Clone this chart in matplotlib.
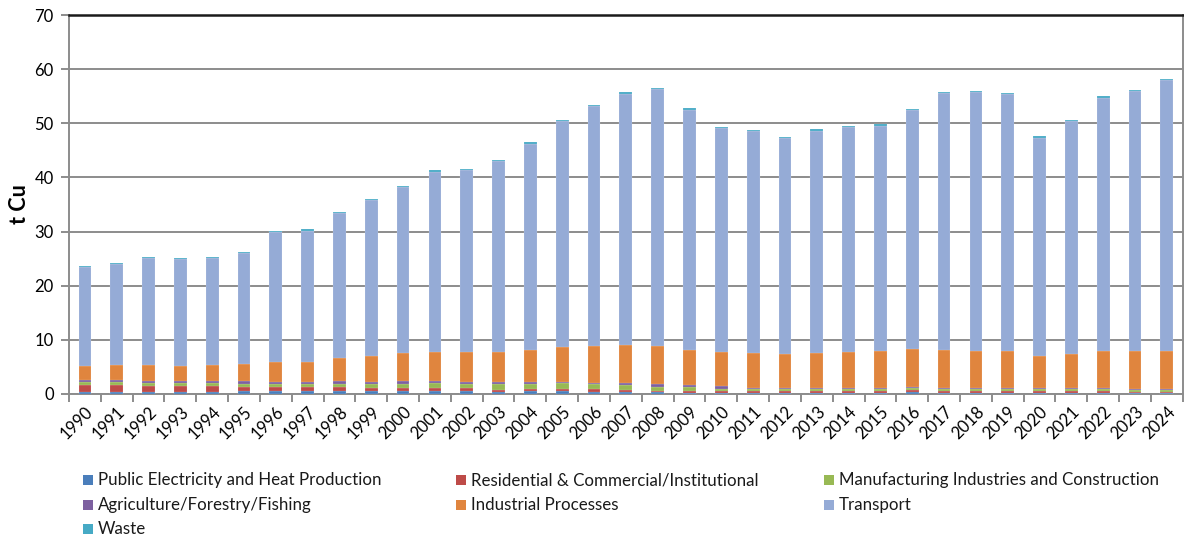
import numpy as np
import matplotlib
matplotlib.use("Agg")
import matplotlib.pyplot as plt
from matplotlib.patches import Rectangle

plt.rcParams["font.family"] = ["Lato", "DejaVu Sans"]

# ----------------------------------------------------- data (t Cu)
years = [str(y) for y in range(1990, 2025)]

public = [0.37, 0.43, 0.43, 0.43, 0.43, 0.49, 0.49, 0.49, 0.61, 0.55,
          0.61, 0.55, 0.61, 0.43, 0.55, 0.55, 0.43, 0.37, 0.31, 0.25,
          0.25, 0.20, 0.20, 0.20, 0.20, 0.20, 0.40, 0.20, 0.20, 0.20,
          0.20, 0.20, 0.20, 0.12, 0.12]
residential = [1.29, 1.23, 1.04, 1.04, 1.04, 0.80, 0.80, 0.74, 0.61, 0.49,
               0.43, 0.55, 0.49, 0.31, 0.31, 0.43, 0.43, 0.37, 0.31, 0.37,
               0.31, 0.30, 0.30, 0.30, 0.30, 0.30, 0.30, 0.30, 0.30, 0.30,
               0.30, 0.30, 0.30, 0.18, 0.18]
manufacturing = [0.49, 0.49, 0.55, 0.49, 0.55, 0.61, 0.55, 0.61, 0.67, 0.74,
                 0.86, 0.92, 0.80, 1.04, 0.98, 0.98, 0.92, 0.86, 0.74, 0.61,
                 0.43, 0.40, 0.40, 0.40, 0.40, 0.40, 0.35, 0.40, 0.40, 0.40,
                 0.40, 0.40, 0.40, 0.45, 0.45]
agriculture = [0.43, 0.49, 0.37, 0.43, 0.37, 0.49, 0.43, 0.43, 0.43, 0.43,
               0.43, 0.37, 0.37, 0.37, 0.31, 0.31, 0.31, 0.43, 0.49, 0.43,
               0.43, 0.30, 0.30, 0.30, 0.30, 0.30, 0.30, 0.30, 0.30, 0.30,
               0.30, 0.30, 0.30, 0.25, 0.25]
industrial = [2.52, 2.66, 2.88, 2.82, 3.00, 3.19, 3.56, 3.68, 4.36, 4.72,
              5.21, 5.40, 5.52, 5.64, 6.01, 6.32, 6.69, 6.99, 6.93, 6.50,
              6.38, 6.35, 6.22, 6.40, 6.59, 6.78, 6.87, 6.90, 6.78, 6.65,
              5.73, 6.22, 6.78, 6.90, 6.98]
transport = [18.35, 18.65, 19.78, 19.64, 19.66, 20.47, 24.02, 24.20, 26.77, 28.82,
             30.71, 33.26, 33.56, 35.16, 38.09, 41.76, 44.37, 46.43, 47.57, 44.39,
             41.35, 41.00, 39.83, 41.05, 41.46, 41.57, 44.23, 47.45, 47.77, 47.50,
             40.42, 43.03, 46.77, 48.00, 49.97]
waste = [0.25] * 35

series = [
    ("Public Electricity and Heat Production", public, "#4A7EBB"),
    ("Residential & Commercial/Institutional", residential, "#BE4B48"),
    ("Manufacturing Industries and Construction", manufacturing, "#98B954"),
    ("Agriculture/Forestry/Fishing", agriculture, "#7D60A0"),
    ("Industrial Processes", industrial, "#E0853E"),
    ("Transport", transport, "#95ABD6"),
    ("Waste", waste, "#46AAC5"),
]

# ----------------------------------------------------- figure
W, H = 1184, 537
fig = plt.figure(figsize=(W / 100, H / 100), dpi=100)
ax = fig.add_axes([0.0583, 0.2663, 0.9406, 0.7057])

x = np.arange(len(years))
bottom = np.zeros(len(years))
for name, vals, col in series:
    vals = np.array(vals)
    ax.bar(x, vals, width=0.4, bottom=bottom, color=col, label=name,
           edgecolor=(1, 1, 1, 0.35), linewidth=0.3, zorder=3)
    bottom += vals

ax.set_xlim(-0.5, len(years) - 0.5)
ax.set_ylim(0, 70)
ax.set_yticks(range(0, 71, 10))
ax.yaxis.grid(True, color="#8C8C8C", linewidth=1.4, zorder=0)

ax.set_xticks(x)
ax.set_xticklabels(years, rotation=45, ha="right", rotation_mode="anchor",
                   fontsize=12)
ax.set_xticks(np.arange(-0.5, len(years) - 0.4, 1), minor=True)
ax.tick_params(axis="x", which="major", length=0, pad=7)
ax.tick_params(axis="x", which="minor", length=6, width=1.4, color="#8C8C8C")
ax.tick_params(axis="y", length=6, width=1.4, color="#8C8C8C", labelsize=12,
               pad=5)

for s in ("left", "right", "bottom"):
    ax.spines[s].set_color("#8C8C8C")
    ax.spines[s].set_linewidth(1.4)
ax.spines["top"].set_color("#1A1A1A")
ax.spines["top"].set_linewidth(1.8)

ax.set_ylabel("t Cu", fontsize=15.5, fontweight="bold", labelpad=3)

# ----------------------------------------------------- legend (row-major, 3 columns)
col_px = [83, 456, 824]
row_px = [480, 505, 529]
for i, (name, _, col) in enumerate(series):
    r, c = divmod(i, 3)
    xl, yc = col_px[c], row_px[r]
    fig.patches.append(Rectangle((xl / W, (H - yc - 5) / H), 10 / W, 10 / H,
                                 transform=fig.transFigure, facecolor=col,
                                 edgecolor="none"))
    fig.text((xl + 15) / W, (H - yc) / H, name, ha="left", va="center",
             fontsize=12.2, color="#1A1A1A")

fig.savefig("out.png", dpi=100)
